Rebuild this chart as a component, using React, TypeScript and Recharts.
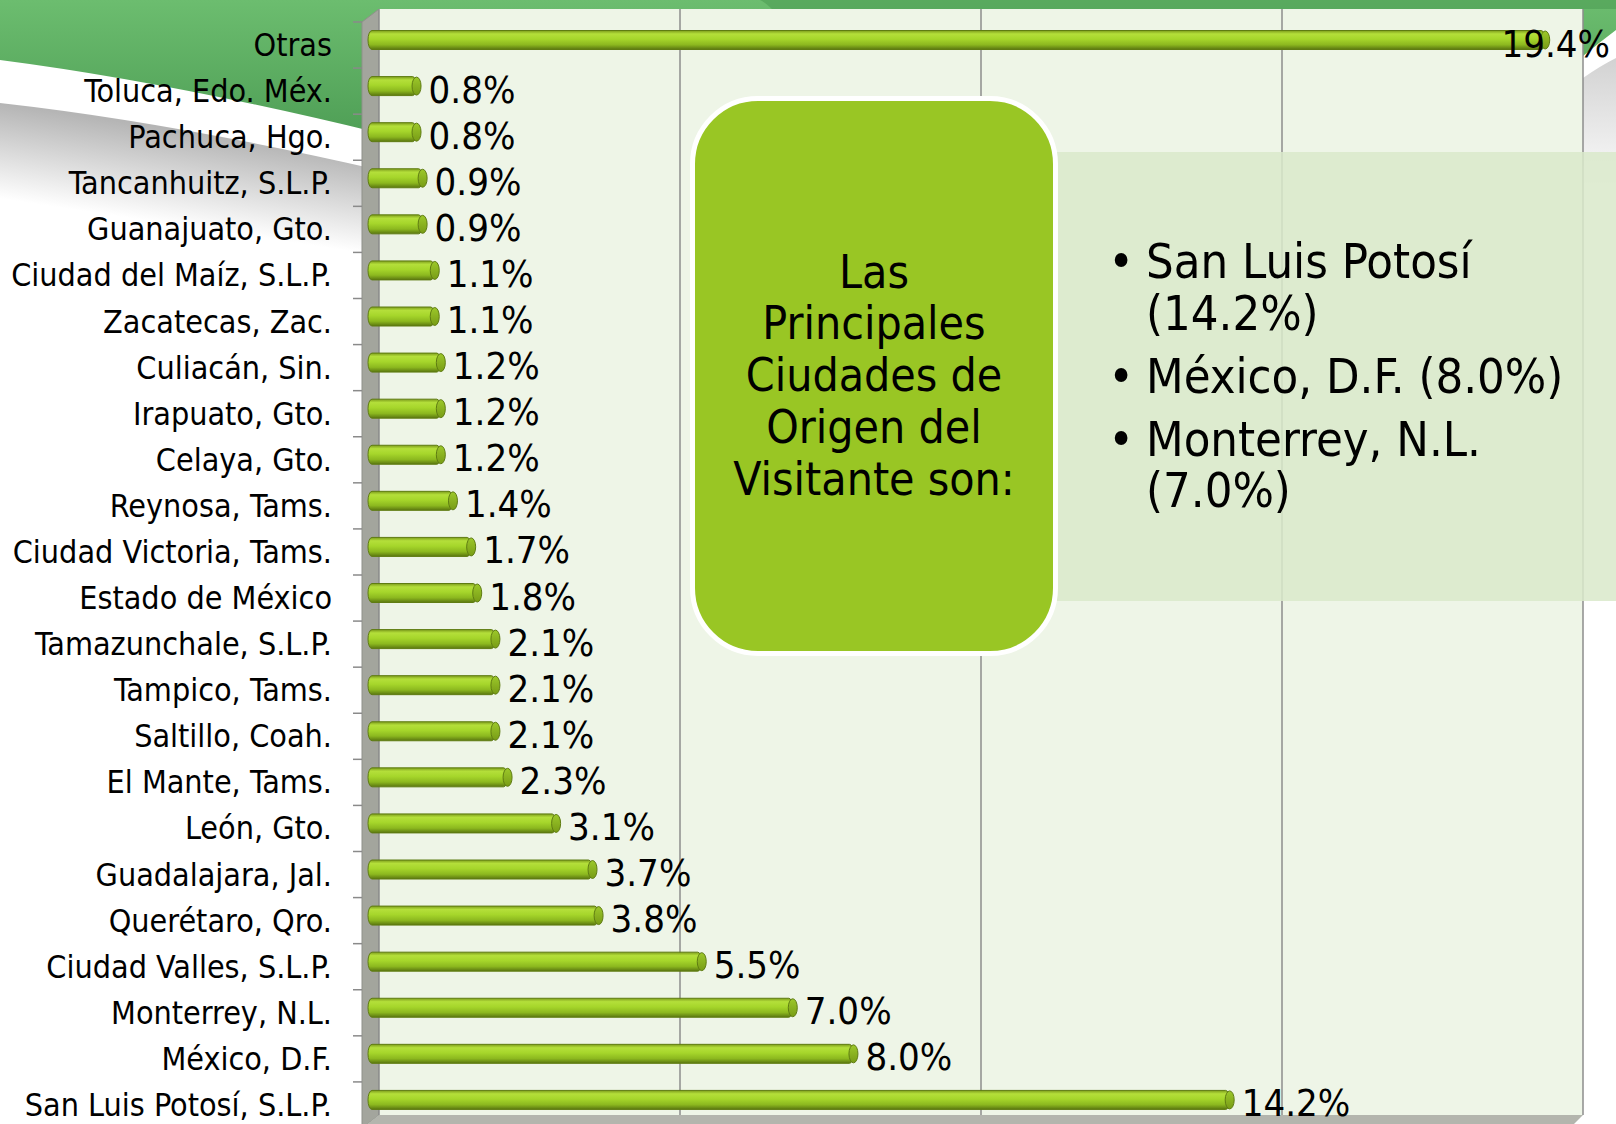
import React from "react";
import { BarChart, Bar, XAxis, YAxis, CartesianGrid, LabelList } from "recharts";

const W = 1616;
const H = 1124;

const cities = [
  "Otras",
  "Toluca, Edo. Méx.",
  "Pachuca, Hgo.",
  "Tancanhuitz, S.L.P.",
  "Guanajuato, Gto.",
  "Ciudad del Maíz, S.L.P.",
  "Zacatecas, Zac.",
  "Culiacán, Sin.",
  "Irapuato, Gto.",
  "Celaya, Gto.",
  "Reynosa, Tams.",
  "Ciudad Victoria, Tams.",
  "Estado de México",
  "Tamazunchale, S.L.P.",
  "Tampico, Tams.",
  "Saltillo, Coah.",
  "El Mante, Tams.",
  "León, Gto.",
  "Guadalajara, Jal.",
  "Querétaro, Qro.",
  "Ciudad Valles, S.L.P.",
  "Monterrey, N.L.",
  "México, D.F.",
  "San Luis Potosí, S.L.P.",
];

const shares = [
  19.4, 0.8, 0.8, 0.9, 0.9, 1.1, 1.1, 1.2, 1.2, 1.2, 1.4, 1.7, 1.8, 2.1, 2.1, 2.1, 2.3,
  3.1, 3.7, 3.8, 5.5, 7.0, 8.0, 14.2,
];

const xTicks = [0, 5, 10, 15, 20];

const calloutLines = ["Las", "Principales", "Ciudades de", "Origen del", "Visitante son:"];

const highlights = [
  ["San Luis Potosí", "(14.2%)"],
  ["México, D.F. (8.0%)"],
  ["Monterrey, N.L.", "(7.0%)"],
];

const data = cities.map((name, i) => ({ name, value: shares[i] }));

const FONT = "'DejaVu Sans Condensed', 'DejaVu Sans', sans-serif";
const AXIS_W = 379;
// fake 3d: front face of the bars sits left/down of the back wall
const DX = 11;
const DY = 7.5;
const LABEL_DY = 13;
const STRETCH = 1.008;

function Cylinder(props: any) {
  const { x, y, width, height } = props;
  if (!width || width <= 0) return null;
  const x0 = x - DX;
  const y0 = y + DY;
  const w = width * STRETCH;
  const r = height / 2;
  return (
    <g>
      <rect x={x0} y={y0} width={w} height={height} rx={4} ry={r} fill="url(#cyl)" stroke="#5f7c12" strokeWidth={1} />
      <ellipse cx={x0 + w} cy={y0 + r} rx={4.5} ry={r - 0.5} fill="url(#cap)" stroke="#5f7c12" strokeWidth={1} />
    </g>
  );
}

function ValueLabel(props: any) {
  const { x, y, width, height, value } = props;
  const end = x - DX + width * STRETCH + 4;
  const cy = y + height / 2 + LABEL_DY - 2;
  let tx = end + 8;
  let anchor: "start" | "end" = "start";
  if (tx + 105 > W) {
    tx = W - 6;
    anchor = "end";
  }
  return (
    <text x={tx} y={cy} textAnchor={anchor} dominantBaseline="central" fontSize={38} fill="#000" style={{ fontFamily: FONT, fontStretch: "condensed" }}>
      {Number(value).toFixed(1)}%
    </text>
  );
}

function CityTick(props: any) {
  const { y, payload } = props;
  const half = payload && payload.offset ? payload.offset : 23;
  const ty = y + LABEL_DY;
  return (
    <g>
      <line x1={353} x2={362} y1={ty - half} y2={ty - half} stroke="#8a8a8a" strokeWidth={1.5} />
      <text x={332} y={ty} textAnchor="end" dominantBaseline="central" fontSize={32} fill="#000" style={{ fontFamily: FONT, fontStretch: "condensed" }}>
        {payload.value}
      </text>
    </g>
  );
}

function Backdrop() {
  return (
    <svg width={W} height={H} style={{ position: "absolute", left: 0, top: 0 }}>
      <defs>
        <linearGradient id="bgGreen" x1="0" y1="0" x2="0" y2="1">
          <stop offset="0" stopColor="#6cbd6f" />
          <stop offset="1" stopColor="#4f9f56" />
        </linearGradient>
        <linearGradient id="shadowL" gradientUnits="userSpaceOnUse" x1="190" y1="132" x2="176" y2="225">
          <stop offset="0" stopColor="#b5b5b5" />
          <stop offset="1" stopColor="#ffffff" />
        </linearGradient>
        <linearGradient id="shadowR" x1="0" y1="0" x2="0" y2="1">
          <stop offset="0" stopColor="#d2d2d2" />
          <stop offset="1" stopColor="#ffffff" />
        </linearGradient>
      </defs>
      <rect width={W} height={H} fill="#ffffff" />
      <path d="M0,103 Q170,122 379,170 L379,320 L0,320 Z" fill="url(#shadowL)" />
      <path d="M1583,78 Q1600,66 1616,58 L1616,200 L1583,200 Z" fill="url(#shadowR)" />
      <path d="M0,0 H1616 V30 Q1600,42 1583,56 L379,133 Q170,82 0,60 Z" fill="url(#bgGreen)" />
      <path d="M760,0 H1616 V9 H772 Q766,3 760,0 Z" fill="#4c9c53" opacity={0.6} />
      <polygon points="362,22 379,9 379,1115 362,1128" fill="#a3a59d" stroke="#8f918a" strokeWidth={1} />
      <polygon points="379,1115 1583,1115 1570,1128 362,1128" fill="#b3b5ad" />
    </svg>
  );
}

export default function App() {
  return (
    <div style={{ position: "absolute", left: 0, top: 0, width: W, height: H, overflow: "hidden", fontFamily: FONT }}>
      <Backdrop />
      <div style={{ position: "absolute", left: 0, top: 0 }}>
        <BarChart width={W} height={H} data={data} layout="vertical" margin={{ top: 9, right: 33, bottom: 9, left: 0 }}>
          <defs>
            <linearGradient id="cyl" x1="0" y1="0" x2="0" y2="1">
              <stop offset="0" stopColor="#7d9c1c" />
              <stop offset="0.18" stopColor="#b4df3a" />
              <stop offset="0.45" stopColor="#a6d62b" />
              <stop offset="0.75" stopColor="#8cb81f" />
              <stop offset="1" stopColor="#5a7610" />
            </linearGradient>
            <linearGradient id="cap" x1="0" y1="0" x2="0" y2="1">
              <stop offset="0" stopColor="#9cc82a" />
              <stop offset="1" stopColor="#789c16" />
            </linearGradient>
          </defs>
          <CartesianGrid horizontal={false} stroke="#8c8c8c" strokeWidth={1.5} fill="#eef5e7" fillOpacity={1} />
          <XAxis type="number" domain={[0, 20]} ticks={xTicks} hide />
          <YAxis
            type="category"
            dataKey="name"
            width={AXIS_W}
            axisLine={false}
            tickLine={false}
            interval={0}
            tick={<CityTick />}
          />
          <Bar dataKey="value" barSize={19} shape={<Cylinder />} isAnimationActive={false}>
            <LabelList dataKey="value" content={<ValueLabel />} />
          </Bar>
        </BarChart>
      </div>
      <div
        style={{
          position: "absolute",
          left: 1056,
          top: 152,
          width: W - 1056,
          height: 449,
          background: "rgba(218,233,203,0.86)",
          display: "flex",
          flexDirection: "column",
          justifyContent: "center",
          fontSize: 48.5,
          lineHeight: "51.5px",
          fontStretch: "condensed",
          color: "#000",
        }}
      >
        {highlights.map((lines, i) => (
          <div key={i} style={{ display: "flex", marginTop: i ? 11.5 : 0 }}>
            <div style={{ width: 90, textAlign: "right", paddingRight: 12, boxSizing: "border-box" }}>•</div>
            <div>
              {lines.map((l) => (
                <div key={l} style={{ whiteSpace: "nowrap" }}>{l}</div>
              ))}
            </div>
          </div>
        ))}
      </div>
      <div
        style={{
          position: "absolute",
          left: 690,
          top: 96,
          width: 368,
          height: 560,
          boxSizing: "border-box",
          background: "#99c624",
          border: "5px solid #ffffff",
          borderRadius: 68,
          display: "flex",
          flexDirection: "column",
          justifyContent: "center",
          alignItems: "center",
          fontSize: 46,
          lineHeight: "51.7px",
          fontStretch: "condensed",
          color: "#000",
          textAlign: "center",
        }}
      >
        {calloutLines.map((l) => (
          <div key={l} style={{ whiteSpace: "nowrap" }}>{l}</div>
        ))}
      </div>
    </div>
  );
}
